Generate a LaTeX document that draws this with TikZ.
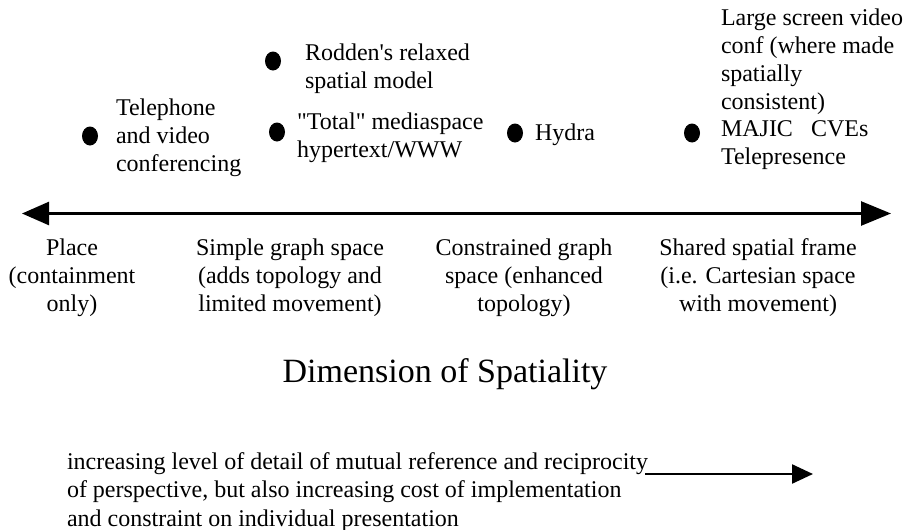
\documentclass[tikz,border=0pt]{standalone}
\usepackage{fontspec}
\setmainfont{Liberation Serif}[Ligatures=TeXOff]
\usetikzlibrary{arrows.meta,shapes.geometric}
\begin{document}
\begin{tikzpicture}[x=1pt,y=-1pt,
  every node/.style={inner sep=0pt,outer sep=0pt},
  dot/.style={ellipse,fill=black,minimum width=16pt,minimum height=19pt},
  item/.style={anchor=west,align=left,font=\fontsize{24}{27.8}\selectfont},
  kind/.style={align=center,font=\fontsize{24}{28}\selectfont},
  axis/.style={line width=2.6pt,
    {Triangle[length=27pt,width=23pt]}-{Triangle[length=30pt,width=24pt]}},
  pointer/.style={line width=2.4pt,-{Triangle[length=21pt,width=19pt]}},
  note/.style={anchor=west,align=left,font=\fontsize{24}{28.2}\selectfont}]
\useasboundingbox (0,0) rectangle (906,530);

% systems placed along the dimension
\node[dot] (d1) at (90,136) {};
\node[item] (t1) at (116,137.5) {Telephone\\and video\\conferencing};
\node[dot] (d2) at (273,61) {};
\node[item] (t2) at (305,69) {Rodden's relaxed\\spatial model};
\node[dot] (d3) at (277,132) {};
\node[item] (t3) at (297,137.5) {"Total" mediaspace\\hypertext/WWW};
\node[dot] (d4) at (515,133) {};
\node[item] (t4) at (535,135) {Hydra};
\node[dot] (d5) at (692,133) {};
\node[item] (t5) at (721,89.5) {Large screen video\\conf (where made\\spatially\\consistent)\\MAJIC\hspace{18pt}CVEs\\Telepresence};

% the axis
\coordinate (aL) at (22,213.5);
\coordinate (aR) at (891,213.5);
\draw[axis] (aL) -- (aR);

% kinds of space
\node[kind] (k1) at (72,277.5) {Place\\(containment\\only)};
\node[kind] (k2) at (290,277.5) {Simple graph space\\(adds topology and\\limited movement)};
\node[kind] (k3) at (524,277.5) {Constrained graph\\space (enhanced\\topology)};
\node[kind] (k4) at (758,277.5) {Shared spatial frame\\(i.e. Cartesian space\\with movement)};

\node[font=\fontsize{34}{38}\selectfont] (title) at (445,374.5) {Dimension of Spatiality};

% explanatory note with its direction arrow
\node[note] (n) at (67,492) {increasing level of detail of mutual reference and reciprocity\\of perspective, but also increasing cost of implementation\\and constraint on individual presentation};
\coordinate (nS) at (645,474);
\coordinate (nE) at (813,474);
\draw[pointer] (nS) -- (nE);
\end{tikzpicture}
\end{document}
